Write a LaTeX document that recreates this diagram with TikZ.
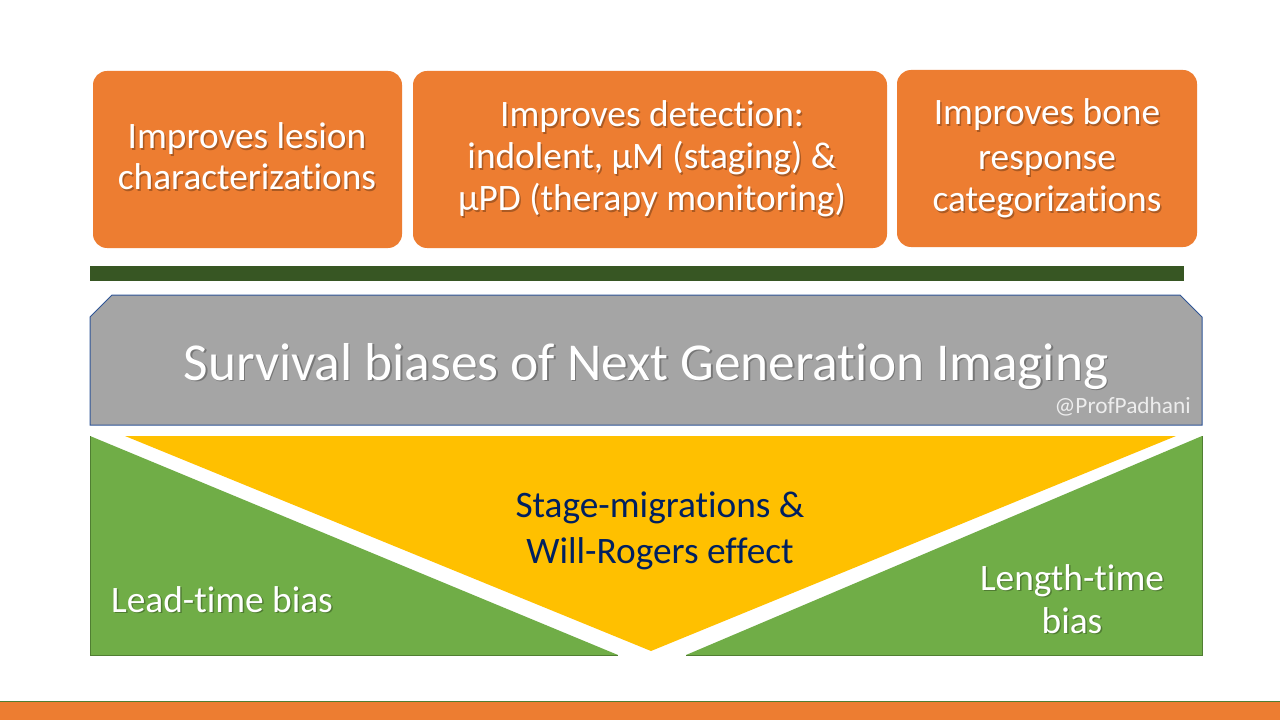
\documentclass[tikz,border=0pt]{standalone}
\usepackage{fontspec}
\setmainfont{Carlito}[Ligatures={TeX,NoCommon}, RawFeature={-liga;-clig;-calt}]
\definecolor{orangeC}{HTML}{ED7D31}
\definecolor{barG}{HTML}{375623}
\definecolor{grayC}{HTML}{A5A5A5}
\definecolor{grayEdge}{HTML}{2F5597}
\definecolor{greenC}{HTML}{70AD47}
\definecolor{greenEdge}{HTML}{507E32}
\definecolor{yellowC}{HTML}{FFC000}
\definecolor{navyC}{HTML}{002060}
\definecolor{markC}{HTML}{EDEDED}
\tikzset{
  obox/.style={fill=orangeC, rounded corners=10.5pt},
  wline/.style={text=white, font=\fontsize{28}{33}\selectfont, anchor=base, inner sep=0pt},
  nline/.style={text=navyC, font=\fontsize{28}{33}\selectfont, anchor=base, inner sep=0pt},
  tline/.style={text=white, font=\fontsize{40}{48}\selectfont, anchor=base, inner sep=0pt},
  shadowcopy/.style={text=black, text opacity=0.28}
}
\newcommand\txtline[5]{%
  \node[#2, shadowcopy] (#1s) at (#3+1.5,#4+1.5) {#5};
  \node[#2] (#1) at (#3,#4) {#5};}
\begin{document}
\begin{tikzpicture}[x=0.75pt,y=-0.75pt]
\useasboundingbox (0,0) rectangle (1280,720);
\fill[white] (0,0) rectangle (1280,720);
% orange boxes
\path[obox] (93,71) rectangle (402,248);
\path[obox] (413,71) rectangle (887,248);
\path[obox] (897,70) rectangle (1197,247);
% box texts
\txtline{a1}{wline}{247}{149}{Improves lesion}
\txtline{a2}{wline}{247}{190}{characterizations}
\txtline{b1}{wline}{652}{127}{Improves detection:}
\txtline{b2}{wline}{652}{169}{indolent, µM (staging) \&}
\txtline{b3}{wline}{652}{211}{µPD (therapy monitoring)}
\txtline{c1}{wline}{1047}{125}{Improves bone}
\txtline{c2}{wline}{1047}{170}{response}
\txtline{c3}{wline}{1047}{212}{categorizations}
% dark green bar
\fill[barG] (90,266) rectangle (1184,281);
% gray box
\draw[fill=grayC, draw=grayEdge, line width=0.75pt]
  (112,295) -- (1180,295) -- (1202,317) -- (1202,425) -- (90,425) -- (90,317) -- cycle;
\txtline{title}{tline}{646}{380}{Survival biases of Next Generation Imaging}
\node[text=markC, font=\fontsize{17.5}{21}\selectfont, anchor=base east, inner sep=0pt] (mark) at (1191,413) {@ProfPadhani};
% green triangles
\fill[greenC] (90,436) -- (618,655) -- (90,655) -- cycle;
\fill[greenC] (1202,436) -- (686,655) -- (1202,655) -- cycle;
\draw[greenEdge, line width=0.75pt] (90,436) -- (90,655) -- (618,655);
\draw[greenEdge, line width=0.75pt] (1202,436) -- (1202,655) -- (686,655);
% yellow triangle
\fill[yellowC] (125,436) -- (1176,436) -- (651,651) -- cycle;
% bottom texts
\node[nline] (s1) at (660,517) {Stage-migrations \&};
\node[nline] (s2) at (660,563) {Will-Rogers effect};
\txtline{l1}{wline}{222}{612}{Lead-time bias}
\txtline{r1}{wline}{1072}{590}{Length-time}
\txtline{r2}{wline}{1072}{633}{bias}
% bottom orange bar
\fill[orangeC] (0,701) rectangle (1280,720);
\draw[greenEdge, line width=0.75pt] (0,701) -- (1280,701);
\end{tikzpicture}
\end{document}
